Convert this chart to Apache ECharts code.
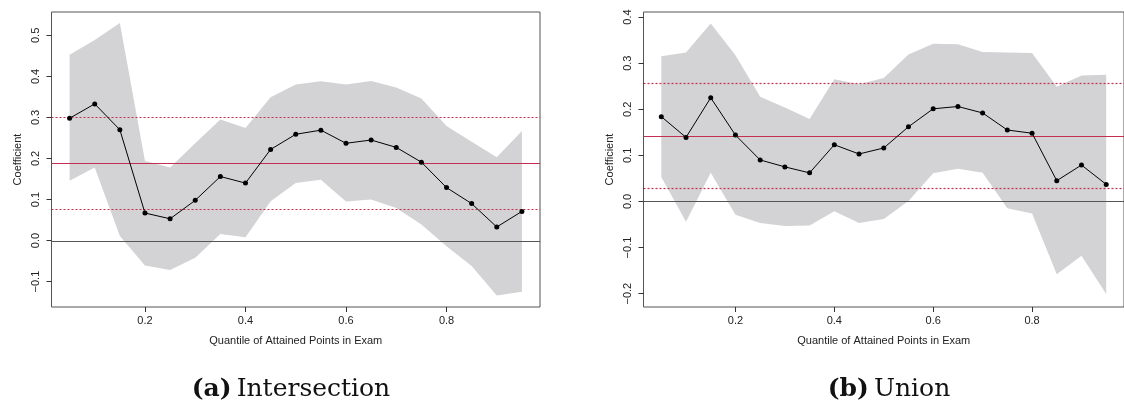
<!DOCTYPE html>
<html>
<head>
<meta charset="utf-8">
<script src="https://cdn.jsdelivr.net/npm/echarts@6/dist/echarts.min.js"></script>
<style>
  html, body { margin: 0; padding: 0; background: #fff; }
  #chart { width: 1124px; height: 405px; }
</style>
</head>
<body>
<div id="chart"></div>
<script>
// Quantiles of attained exam points at which the coefficient was estimated
const quantiles = [0.05, 0.10, 0.15, 0.20, 0.25, 0.30, 0.35, 0.40, 0.45, 0.50,
                   0.55, 0.60, 0.65, 0.70, 0.75, 0.80, 0.85, 0.90, 0.95];

// (a) Intersection: point estimates and confidence band
const interEstimate = [0.298, 0.333, 0.270, 0.067, 0.053, 0.098, 0.156, 0.140, 0.222, 0.259,
                       0.269, 0.237, 0.245, 0.227, 0.191, 0.129, 0.090, 0.033, 0.071];
const interUpper = [0.453, 0.489, 0.530, 0.194, 0.178, 0.237, 0.295, 0.274, 0.349, 0.380,
                    0.388, 0.380, 0.389, 0.373, 0.346, 0.279, 0.241, 0.203, 0.267];
const interLower = [0.146, 0.178, 0.011, -0.061, -0.072, -0.042, 0.016, 0.008, 0.096, 0.140,
                    0.148, 0.095, 0.100, 0.079, 0.039, -0.014, -0.062, -0.134, -0.125];
// mean effect (solid) and its bounds (dotted)
const interMean = 0.1885;
const interBounds = [0.077, 0.300];

// (b) Union: point estimates and confidence band
const unionEstimate = [0.184, 0.139, 0.225, 0.144, 0.090, 0.075, 0.062, 0.123, 0.103, 0.116,
                       0.162, 0.201, 0.206, 0.192, 0.155, 0.148, 0.045, 0.079, 0.037];
const unionUpper = [0.315, 0.323, 0.386, 0.317, 0.227, 0.204, 0.179, 0.265, 0.254, 0.268,
                    0.319, 0.342, 0.341, 0.324, 0.323, 0.322, 0.249, 0.273, 0.275];
const unionLower = [0.053, -0.044, 0.062, -0.029, -0.047, -0.053, -0.052, -0.021, -0.047, -0.038,
                    0.001, 0.061, 0.071, 0.062, -0.015, -0.026, -0.158, -0.118, -0.201];
const unionMean = 0.1427;
const unionBounds = [0.0287, 0.257];

// Tick labels
const xTicks = [0.2, 0.4, 0.6, 0.8];
const interYTicks = [-0.1, 0.0, 0.1, 0.2, 0.3, 0.4, 0.5];
const unionYTicks = [-0.2, -0.1, 0.0, 0.1, 0.2, 0.3, 0.4];

const xTitle = 'Quantile of Attained Points in Exam';
const yTitle = 'Coefficient';
const captions = [['(a)', 'Intersection'], ['(b)', 'Union']];

// x range of both panels (data range padded by 4% on each side)
const X_MIN = 0.014, X_MAX = 0.986;

const SANS = '"Liberation Sans", Arial, sans-serif';
const SERIF = '"DejaVu Serif", serif';
const BAND = '#d3d3d5';
const RED = '#c42f50';

const fmt = v => (v < 0 ? '\u2212' : '') + Math.abs(v).toFixed(1);
const pairs = ys => quantiles.map((q, i) => [q, ys[i]]);

function xAxisFor(gridIndex) {
  return {
    type: 'value', gridIndex, min: X_MIN, max: X_MAX,
    axisLine: { show: false, onZero: false },
    splitLine: { show: false },
    axisTick: { show: true, length: 5, inside: false, customValues: xTicks,
                lineStyle: { color: '#333', width: 1 } },
    axisLabel: { customValues: xTicks, formatter: v => v.toFixed(1), margin: 8,
                 fontFamily: SANS, fontSize: 11, color: '#222' },
    name: xTitle, nameLocation: 'middle', nameGap: 28,
    nameTextStyle: { fontFamily: SANS, fontSize: 11, color: '#222' }
  };
}

function yAxisFor(gridIndex, min, max, ticks) {
  return {
    type: 'value', gridIndex, min, max,
    axisLine: { show: false, onZero: false },
    splitLine: { show: false },
    axisTick: { show: true, length: 5, inside: false, customValues: ticks,
                lineStyle: { color: '#333', width: 1 } },
    axisLabel: { customValues: ticks, formatter: fmt, rotate: 90, margin: 10,
                 fontFamily: SANS, fontSize: 11, color: '#222' },
    name: yTitle, nameLocation: 'middle', nameRotate: 90, nameGap: 28,
    nameTextStyle: { fontFamily: SANS, fontSize: 11, color: '#222' }
  };
}

// horizontal reference line across the whole plotting region, snapped to the pixel grid
function hline(idx, value, color, width, dash) {
  return {
    type: 'custom', xAxisIndex: idx, yAxisIndex: idx, silent: true, z: 2,
    data: [[X_MIN, value]],
    encode: { x: 0, y: 1 },
    renderItem: (params, api) => {
      const cs = params.coordSys;
      const y = Math.round(api.coord([X_MIN, value])[1]) + 0.5;
      return {
        type: 'line',
        shape: { x1: cs.x, y1: y, x2: cs.x + cs.width, y2: y },
        style: { stroke: color, lineWidth: width, lineDash: dash }
      };
    }
  };
}

function panelSeries(idx, est, up, lo, mean, bounds) {
  return [
    // confidence band: polygon along the upper bound, back along the lower bound
    {
      type: 'custom', xAxisIndex: idx, yAxisIndex: idx, silent: true, z: 1,
      data: quantiles.map((q, i) => [q, lo[i], up[i]]),
      encode: { x: 0, y: [1, 2] },
      renderItem: (params, api) => {
        if (params.dataIndex !== 0) return null;
        const upper = quantiles.map((q, i) => api.coord([q, up[i]]));
        const lower = quantiles.map((q, i) => api.coord([q, lo[i]])).reverse();
        return { type: 'polygon', shape: { points: upper.concat(lower) },
                 style: { fill: BAND, stroke: null } };
      }
    },
    hline(idx, 0, '#555', 1, null),
    hline(idx, mean, RED, 1.2, null),
    hline(idx, bounds[0], RED, 1.2, [2, 2]),
    hline(idx, bounds[1], RED, 1.2, [2, 2]),
    { type: 'line', xAxisIndex: idx, yAxisIndex: idx, data: pairs(est), z: 3,
      symbol: 'circle', symbolSize: 5, showSymbol: true,
      itemStyle: { color: '#000' }, lineStyle: { color: '#000', width: 1 } }
  ];
}

const chart = echarts.init(document.getElementById('chart'), null, { renderer: 'canvas' });
chart.setOption({
  animation: false,
  backgroundColor: '#fff',
  grid: [
    { left: 51.5, right: 584, top: 12, bottom: 98, show: true,
      borderColor: '#555', borderWidth: 1, backgroundColor: 'transparent' },
    { left: 643.5, right: -8, top: 12, bottom: 98, show: true,
      borderColor: '#555', borderWidth: 1, backgroundColor: 'transparent' }
  ],
  xAxis: [xAxisFor(0), xAxisFor(1)],
  yAxis: [yAxisFor(0, -0.162, 0.557, interYTicks), yAxisFor(1, -0.229, 0.411, unionYTicks)],
  title: captions.map((c, i) => ({
    text: '{b|' + c[0] + '} {n|' + c[1] + '}',
    left: i === 0 ? 286 : 884, top: 372, textAlign: 'center',
    textStyle: {
      fontWeight: 'normal',
      rich: {
        b: { fontFamily: SERIF, fontSize: 25, fontWeight: 'bold', color: '#111' },
        n: { fontFamily: SERIF, fontSize: 25, fontWeight: 'normal', color: '#111' }
      }
    }
  })),
  series: [
    ...panelSeries(0, interEstimate, interUpper, interLower, interMean, interBounds),
    ...panelSeries(1, unionEstimate, unionUpper, unionLower, unionMean, unionBounds)
  ]
});
</script>
</body>
</html>
